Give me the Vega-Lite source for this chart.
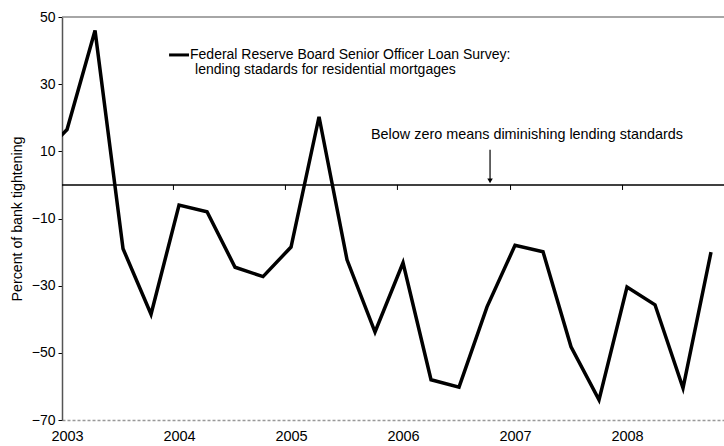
{
  "$schema": "https://vega.github.io/schema/vega-lite/v6.json",
  "autosize": "none",
  "width": 662,
  "height": 403,
  "padding": {"left": 62, "top": 17, "right": 0, "bottom": 26},
  "background": "white",
  "config": {
    "font": "Liberation Sans",
    "view": {"stroke": null},
    "axis": {"labelFont": "Liberation Sans", "titleFont": "Liberation Sans", "labelColor": "black", "titleColor": "black", "grid": false}
  },
  "datasets": {
    "survey": [
      {"quarter": 2002.75, "pct": 8},
      {"quarter": 2003.0, "pct": 16.5},
      {"quarter": 2003.25, "pct": 46},
      {"quarter": 2003.5, "pct": -19},
      {"quarter": 2003.75, "pct": -38.5},
      {"quarter": 2004.0, "pct": -6},
      {"quarter": 2004.25, "pct": -8},
      {"quarter": 2004.5, "pct": -24.5},
      {"quarter": 2004.75, "pct": -27.3},
      {"quarter": 2005.0, "pct": -18.5},
      {"quarter": 2005.25, "pct": 20.3},
      {"quarter": 2005.5, "pct": -22.3},
      {"quarter": 2005.75, "pct": -43.8},
      {"quarter": 2006.0, "pct": -23.2},
      {"quarter": 2006.25, "pct": -58},
      {"quarter": 2006.5, "pct": -60.2},
      {"quarter": 2006.75, "pct": -36.3},
      {"quarter": 2007.0, "pct": -18},
      {"quarter": 2007.25, "pct": -19.9},
      {"quarter": 2007.5, "pct": -48.2},
      {"quarter": 2007.75, "pct": -64},
      {"quarter": 2008.0, "pct": -30.4},
      {"quarter": 2008.25, "pct": -35.7},
      {"quarter": 2008.5, "pct": -60.5},
      {"quarter": 2008.75, "pct": -20}
    ],
    "refLines": [
      {"pct": 0, "kind": "zero"},
      {"pct": 50, "kind": "top"}
    ],
    "zeroTicks": [
      {"quarter": 2003.95, "top": 0, "bottom": -1.5},
      {"quarter": 2004.95, "top": 0, "bottom": -1.5},
      {"quarter": 2005.95, "top": 0, "bottom": -1.5},
      {"quarter": 2006.96, "top": 0, "bottom": -1.5},
      {"quarter": 2007.96, "top": 0, "bottom": -1.5}
    ],
    "legendKey": [
      {"start": 2003.911, "end": 2004.089, "pct": 38.7}
    ],
    "legendText": [
      {"quarter": 2004.098, "pct": 38.7, "label": "Federal Reserve Board Senior Officer Loan Survey:"},
      {"quarter": 2004.143, "pct": 34.2, "label": "lending stadards for residential mortgages"}
    ],
    "note": [
      {"quarter": 2007.107, "pct": 14.9, "label": "Below zero means diminishing lending standards"}
    ],
    "arrow": [
      {"quarter": 2006.777, "from": 10.5, "to": 1.2}
    ]
  },
  "layer": [
    {
      "data": {"name": "refLines"},
      "mark": {"type": "rule", "strokeWidth": 1.5},
      "encoding": {
        "y": {"field": "pct", "type": "quantitative"},
        "color": {"field": "kind", "type": "nominal", "scale": {"domain": ["zero", "top"], "range": ["black", "#888"]}, "legend": null}
      }
    },
    {
      "data": {"name": "zeroTicks"},
      "mark": {"type": "rule", "color": "black", "strokeWidth": 1},
      "encoding": {
        "x": {"field": "quarter", "type": "quantitative"},
        "y": {"field": "top", "type": "quantitative"},
        "y2": {"field": "bottom"}
      }
    },
    {
      "data": {"name": "survey"},
      "mark": {"type": "line", "color": "black", "strokeWidth": 3.5, "clip": true, "strokeJoin": "miter"},
      "encoding": {
        "x": {
          "field": "quarter", "type": "quantitative",
          "scale": {"domain": [2002.955, 2008.866], "nice": false, "zero": false},
          "axis": {
            "title": null, "values": [2003, 2004, 2005, 2006, 2007, 2008], "format": "d",
            "ticks": false, "labelFontSize": 14.5, "labelPadding": 9,
            "domainColor": "#999", "domainDash": [3, 2], "domainWidth": 1.5
          }
        },
        "y": {
          "field": "pct", "type": "quantitative",
          "scale": {"domain": [-70, 50], "nice": false, "zero": false},
          "axis": {
            "title": "Percent of bank tightening", "titleFontSize": 14.2, "titleFontWeight": "normal", "titlePadding": 7,
            "values": [-70, -50, -30, -10, 10, 30, 50], "labelFontSize": 14, "labelPadding": 3,
            "tickSize": 4, "tickColor": "black", "domainColor": "#555", "domainWidth": 1.5
          }
        }
      }
    },
    {
      "data": {"name": "legendKey"},
      "mark": {"type": "rule", "color": "black", "strokeWidth": 3},
      "encoding": {
        "x": {"field": "start", "type": "quantitative"},
        "x2": {"field": "end"},
        "y": {"field": "pct", "type": "quantitative"}
      }
    },
    {
      "data": {"name": "legendText"},
      "mark": {"type": "text", "align": "left", "baseline": "middle", "fontSize": 14, "color": "black"},
      "encoding": {
        "x": {"field": "quarter", "type": "quantitative"},
        "y": {"field": "pct", "type": "quantitative"},
        "text": {"field": "label"}
      }
    },
    {
      "data": {"name": "note"},
      "mark": {"type": "text", "align": "center", "baseline": "middle", "fontSize": 14.4, "color": "black"},
      "encoding": {
        "x": {"field": "quarter", "type": "quantitative"},
        "y": {"field": "pct", "type": "quantitative"},
        "text": {"field": "label"}
      }
    },
    {
      "data": {"name": "arrow"},
      "mark": {"type": "rule", "color": "black", "strokeWidth": 1.2},
      "encoding": {
        "x": {"field": "quarter", "type": "quantitative"},
        "y": {"field": "from", "type": "quantitative"},
        "y2": {"field": "to"}
      }
    },
    {
      "data": {"name": "arrow"},
      "mark": {"type": "point", "shape": "triangle-down", "filled": true, "color": "black", "size": 30, "opacity": 1},
      "encoding": {
        "x": {"field": "quarter", "type": "quantitative"},
        "y": {"field": "to", "type": "quantitative"}
      }
    }
  ]
}
